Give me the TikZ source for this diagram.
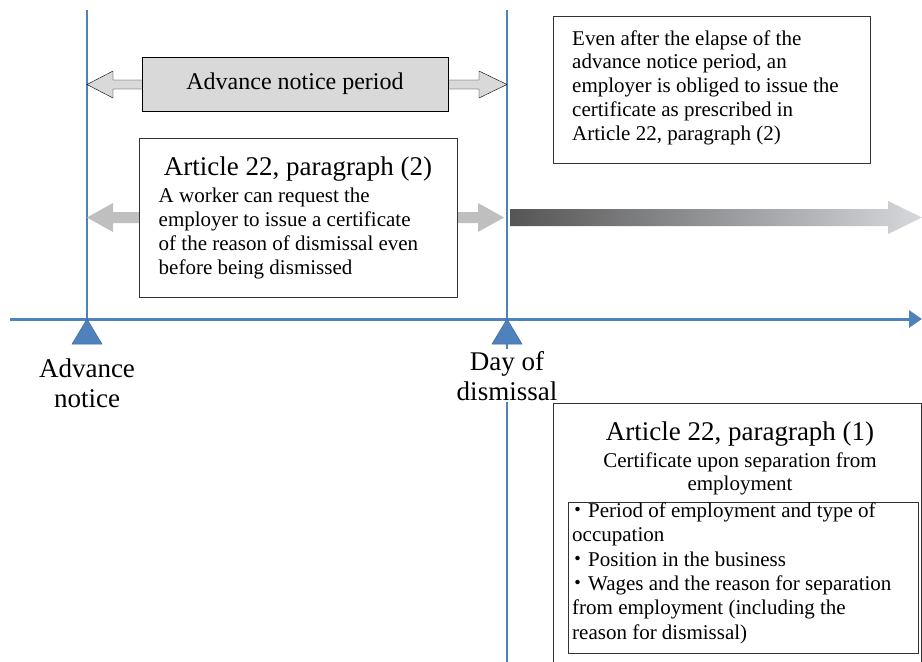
\documentclass[tikz,border=0pt]{standalone}
\usepackage{fontspec}
\setmainfont{Liberation Serif}
\newfontfamily\cjkfont{Noto Sans CJK JP}
\usetikzlibrary{arrows.meta, positioning}

\definecolor{lineblue}{RGB}{79,129,189}
\definecolor{shadedark}{RGB}{85,85,85}
\definecolor{shadeblue}{RGB}{198,213,238}
\definecolor{shadelight}{RGB}{214,216,221}
\newcommand{\bodyfont}{\fontsize{21}{24}\selectfont}
\newcommand{\headfont}{\fontsize{27}{31}\selectfont}
\newcommand{\periodfont}{\fontsize{24}{28}\selectfont}
\newcommand{\markfont}{\fontsize{27}{30}\selectfont}
\newcommand{\dotitem}{\makebox[21pt]{\cjkfont ・}}

\begin{document}
\begin{tikzpicture}[x=1pt, y=-1pt,
every node/.style={font=\bodyfont},
tline/.style={lineblue, line width=2pt},
textbox/.style={draw=black!80, line width=1pt, fill=white, inner sep=0pt},
plaintext/.style={align=left, inner sep=0pt, anchor=base west},
grayarrow/.style={fill=black!25},
tickmark/.style={fill=lineblue, draw=lineblue!80!black, line width=0.5pt}
]
\useasboundingbox (0,0) rectangle (922,662);

% time line
\coordinate (noticetop) at (87,10);
\coordinate (noticepos) at (87,319);
\coordinate (dismisstop) at (507,10);
\coordinate (dismisspos) at (507,319);
\coordinate (dismissend) at (507,662);
\coordinate (axisstart) at (10,319);
\coordinate (axisend) at (922,319);
\draw[tline] (noticetop) -- (noticepos);
\draw[tline] (dismisstop) -- (dismissend);
\draw[lineblue, line width=3pt, -{Triangle[length=13pt,width=17pt]}] (axisstart) -- (axisend);
\fill[tickmark] (noticepos) -- ++(15,25) -- ++(-30,0) -- cycle;
\fill[tickmark] (dismisspos) -- ++(15,25) -- ++(-30,0) -- cycle;
% multi-line nodes sit on the baseline of their last line
\node[font=\markfont, align=center, anchor=base, inner sep=0pt] (notice) at (87,407) {Advance\\notice};
\node[font=\markfont, align=center, anchor=base, fill=white, inner xsep=1pt, inner ysep=2pt] (dismissal) at (507,400) {Day of\\dismissal};

% advance notice period
\draw[fill=black!15] (87,84.5) -- (113,71) -- (113,80) -- (143,80) -- (143,89) -- (113,89) -- (113,98) -- cycle;
\draw[fill=black!15] (507,84.5) -- (479,71) -- (479,80) -- (447,80) -- (447,89) -- (479,89) -- (479,98) -- cycle;
\node[draw, fill=black!15, minimum width=306pt, minimum height=54pt, font=\periodfont] (period) at (295,84) {Advance notice period};

% article 22 (2)
\fill[grayarrow] (87,217.5) -- (113,203) -- (113,212) -- (140,212) -- (140,223) -- (113,223) -- (113,232) -- cycle;
\fill[grayarrow] (504,217.5) -- (478,203) -- (478,212) -- (456,212) -- (456,223) -- (478,223) -- (478,232) -- cycle;
\node[textbox, minimum width=318pt, minimum height=159pt, anchor=north west] (art2) at (139,138) {};
\node[font=\headfont, anchor=base, inner sep=0pt] (art2title) at (298,175) {Article 22, paragraph (2)};
\node[plaintext] (art2text) at (158.5,274) {A worker can request the\\employer to issue a certificate\\of the reason of dismissal even\\before being dismissed};

% after dismissal
\shade[left color=shadedark, middle color=shadeblue, right color=shadelight]
  (510,209) -- (888,209) -- (888,201) -- (922,217.5) -- (888,234) -- (888,226) -- (510,226) -- cycle;
\node[textbox, minimum width=317pt, minimum height=147pt, anchor=north west] (after) at (553,16) {};
\node[plaintext, font=\fontsize{21}{23.75}\selectfont] (aftertext) at (572,140) {Even after the elapse of the\\advance notice period, an\\employer is obliged to issue the\\certificate as prescribed in\\Article 22, paragraph (2)};

% article 22 (1)
\coordinate (art1bl) at (553,662);
\coordinate (art1tl) at (553,403);
\coordinate (art1tr) at (921,403);
\coordinate (art1br) at (921,662);
\draw[black!80, line width=1pt] (art1bl) -- (art1tl) -- (art1tr) -- (art1br);
\node[font=\headfont, anchor=base, inner sep=0pt] (art1title) at (740,440) {Article 22, paragraph (1)};
\node[align=center, anchor=base, inner sep=0pt, font=\fontsize{21}{23}\selectfont] (art1sub) at (740,490) {Certificate upon separation from\\employment};
\node[textbox, minimum width=350pt, minimum height=151pt, anchor=north west] (art1items) at (568,502) {};
\node[plaintext, font=\fontsize{21}{24.3}\selectfont] (art1list) at (567,639)
  {\dotitem Period of employment and type of\\\hspace*{5pt}occupation\\\dotitem Position in the business\\\dotitem Wages and the reason for separation\\\hspace*{5pt}from employment (including the\\\hspace*{5pt}reason for dismissal)};
\end{tikzpicture}
\end{document}
